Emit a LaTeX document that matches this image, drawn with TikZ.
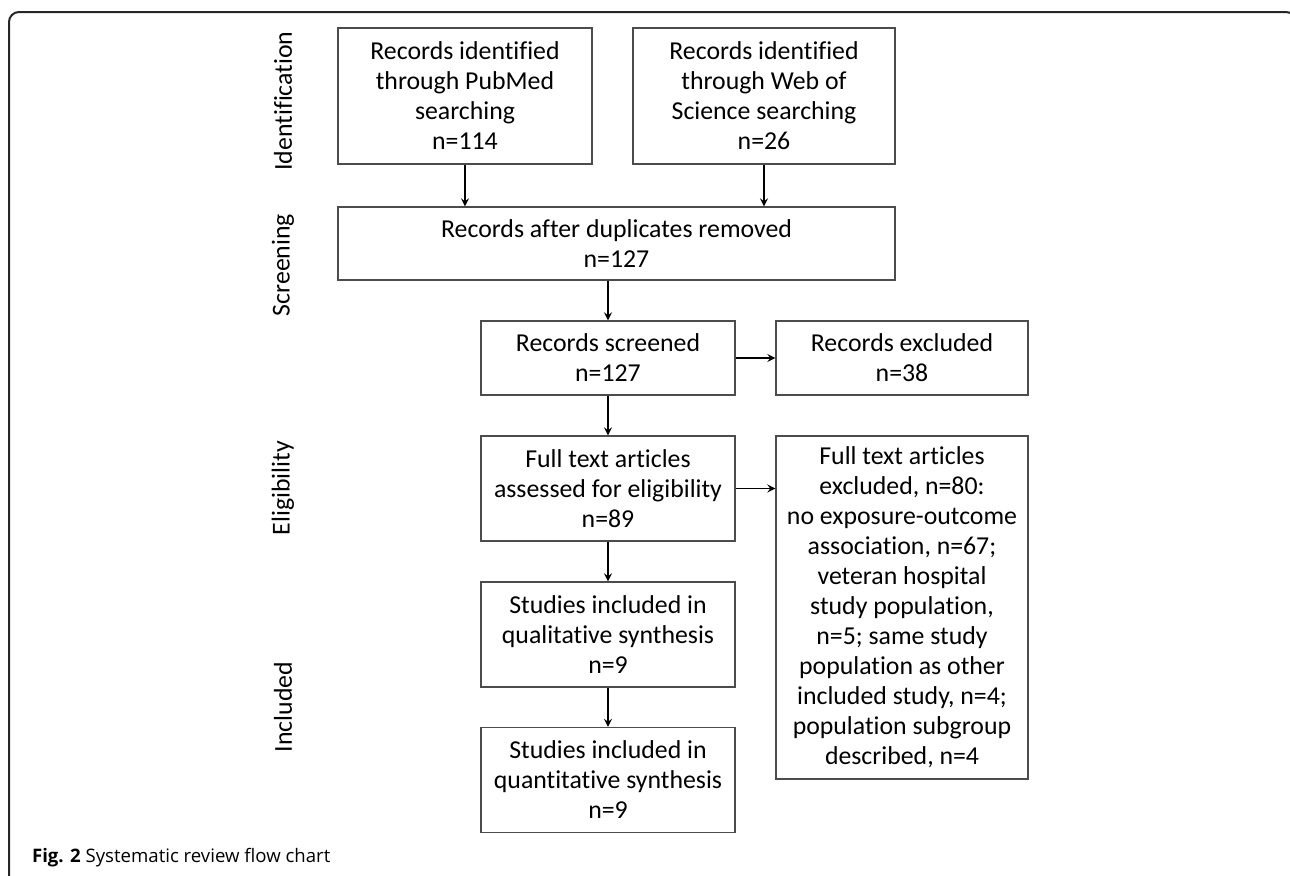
\documentclass[tikz,border=0pt]{standalone}
\usepackage{fontspec}
\setmainfont[Ligatures=NoCommon]{Carlito}
\newfontfamily\figcaptionfont{Open Sans}
\usepackage{tikz}
\usetikzlibrary{arrows}
\usetikzlibrary{positioning}
\tikzstyle{stage} = [rectangle, draw=black!70, line width=0.7pt, align=center, inner sep=2pt, font=\fontsize{12.9}{15}\selectfont]
\tikzstyle{phase} = [rotate=90, font=\fontsize{12.9}{15}\selectfont]
\tikzstyle{arrow} = [line width=0.75pt,->,>=stealth]

\begin{document}
\begin{tikzpicture}[x=0.5pt, y=-0.5pt, on grid]
    \useasboundingbox (0,0) rectangle (1290,875);
    \draw[line width=1pt, black!85, rounded corners=5pt] (9,885) -- (9,12) -- (1296,12) -- (1296,885);

    \node (pubmed)[stage, minimum width=127pt, minimum height=68pt] at (465,96) {Records identified\\through PubMed\\searching\\n=114};
    \node (wos)[stage, minimum width=131pt, minimum height=68pt, right=149.5pt of pubmed] {Records identified\\through Web of\\Science searching\\n=26};
    \node (dedup)[stage, minimum width=278.5pt, minimum height=36.5pt, below right=73.75pt and 75.75pt of pubmed] {Records after duplicates removed\\n=127};
    \node (screened)[stage, minimum width=127pt, minimum height=37pt, below=57.25pt of dedup, xshift=-4.25pt] {Records screened\\n=127};
    \node (recexcl)[stage, minimum width=126pt, minimum height=37pt, right=147pt of screened] {Records excluded\\n=38};
    \node (fulltext)[stage, minimum width=127pt, minimum height=52.5pt, below=65.25pt of screened] {Full text articles\\assessed for eligibility\\n=89};
    \node (ftexcl)[stage, minimum width=126pt, minimum height=171.5pt, right=147pt of fulltext.north, anchor=north] {Full text articles\\excluded, n=80:\\no exposure-outcome\\association, n=67;\\veteran hospital\\study population,\\n=5; same study\\population as other\\included study, n=4;\\population subgroup\\described, n=4};
    \node (qual)[stage, minimum width=127pt, minimum height=52.5pt, below=73pt of fulltext] {Studies included in\\qualitative synthesis\\n=9};
    \node (quant)[stage, minimum width=127pt, minimum height=52.5pt, below=72.75pt of qual] {Studies included in\\quantitative synthesis\\n=9};

    \node (ident)[phase] at (283,101) {Identification};
    \node (screen)[phase] at (283,265) {Screening};
    \node (elig)[phase] at (283,488) {Eligibility};
    \node (incl)[phase] at (283,707) {Included};

    \draw[arrow](pubmed) -- (pubmed |- dedup.north);
    \draw[arrow](wos) -- (wos |- dedup.north);
    \draw[arrow](dedup.south -| screened) -- (screened);
    \draw[arrow](screened) -- (recexcl);
    \draw[arrow](screened) -- (fulltext);
    \draw[arrow](fulltext) -- (fulltext -| ftexcl.west);
    \draw[arrow](fulltext) -- (qual);
    \draw[arrow](qual) -- (quant);

    \node (caption)[anchor=base west, font=\figcaptionfont\fontsize{9.3}{11}\selectfont] at (25,862) {\textbf{Fig. 2} Systematic review flow chart};
\end{tikzpicture}
\end{document}
